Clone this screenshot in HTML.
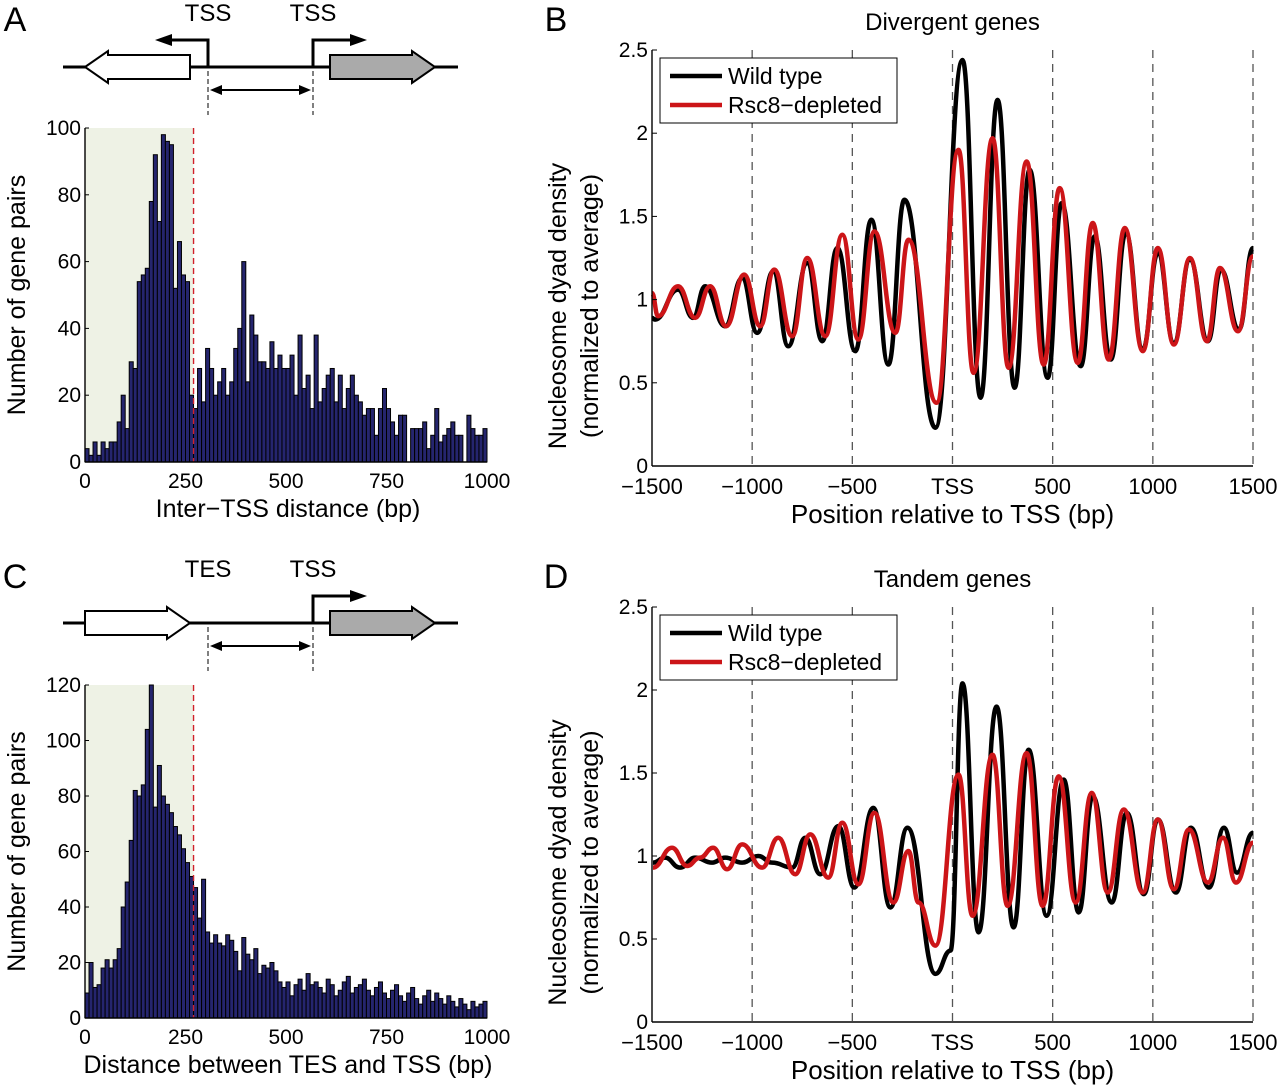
<!DOCTYPE html>
<html><head><meta charset="utf-8"><style>
body{margin:0;background:#fff}
svg{display:block;font-family:"Liberation Sans",Arial,sans-serif}
</style></head><body>
<svg id="fig" width="1280" height="1085" viewBox="0 0 1280 1085" xmlns="http://www.w3.org/2000/svg">
<g id="root"></g>
</svg>
<script>
// ---- Panel A histogram (10 bp bins, 0-1000 bp)
const aCounts = [4,2,6,2,6,4,6,6,12,20,10,30,28,54,56,58,78,92,72,98,96,95,52,66,56,54,20,16,
28,18,34,28,20,24,28,20,24,34,40,60,24,44,38,30,30,28,36,28,32,28,28,
32,20,38,22,26,16,38,18,22,26,28,18,26,16,22,26,20,18,14,16,16,8,16,22,16,12,8,14,14,0,10,10,10,12,4,8,16,6,8,10,12,8,8,0,14,10,8,8,10];
// ---- Panel C histogram
const cCounts = [9,20,11,12,18,21,18,21,25,40,49,64,82,80,84,104,120,76,91,80,77,74,69,66,61,56,51,47,
36,50,31,27,30,27,26,30,28,24,17,29,23,21,25,16,19,18,20,17,13,11,13,8,
12,14,10,16,12,13,11,9,14,12,8,10,13,15,9,11,12,14,10,8,11,13,9,7,10,12,8,6,9,11,7,5,8,10,6,9,7,5,8,6,4,7,5,3,6,4,5,6];
const aTicksY = [0,20,40,60,80,100];
const cTicksY = [0,20,40,60,80,100,120];
const histTicksX = [0,250,500,750,1000];
// ---- Panel B (divergent) extrema
const bWtPos = [-1500,-1485,-1370,-1295,-1235,-1135,-1050,-975,-895,-820,-725,-650,-575,-485,-405,-320,-240,-85,50,140,225,310,385,475,545,640,710,790,865,950,1025,1105,1185,1275,1340,1430,1500];
const bWtVal = [0.89,0.88,1.06,0.89,1.08,0.84,1.13,0.80,1.17,0.72,1.22,0.75,1.31,0.69,1.48,0.61,1.60,0.23,2.44,0.41,2.20,0.47,1.78,0.53,1.58,0.60,1.38,0.64,1.40,0.70,1.28,0.74,1.24,0.75,1.18,0.82,1.31];
const bRsPos = [-1500,-1470,-1370,-1285,-1210,-1130,-1040,-960,-890,-800,-725,-635,-550,-470,-390,-285,-220,-80,30,105,200,280,370,455,535,625,700,780,860,950,1025,1105,1185,1270,1335,1425,1500];
const bRsVal = [1.04,0.90,1.08,0.89,1.08,0.84,1.15,0.84,1.18,0.78,1.25,0.78,1.39,0.76,1.41,0.80,1.36,0.38,1.90,0.56,1.97,0.59,1.83,0.61,1.67,0.62,1.46,0.64,1.43,0.69,1.31,0.73,1.25,0.75,1.19,0.81,1.26];
// ---- Panel D (tandem) extrema
const dWtPos = [-1495,-1435,-1360,-1285,-1200,-1135,-1050,-970,-900,-800,-735,-660,-570,-490,-395,-310,-225,-85,-10,50,130,220,305,380,470,555,630,700,795,870,955,1025,1115,1190,1280,1355,1420,1500];
const dWtVal = [0.96,0.99,0.93,0.99,0.96,0.99,0.96,1.0,0.96,0.93,1.11,0.89,1.18,0.81,1.29,0.69,1.17,0.29,0.43,2.04,0.54,1.90,0.57,1.64,0.64,1.46,0.66,1.36,0.72,1.26,0.77,1.22,0.78,1.17,0.81,1.17,0.90,1.14];
const dRsPos = [-1495,-1400,-1325,-1260,-1195,-1125,-1050,-950,-870,-785,-710,-620,-550,-470,-390,-295,-220,-170,-85,30,100,200,275,370,450,530,615,695,775,855,950,1025,1105,1180,1275,1350,1415,1500];
const dRsVal = [0.93,1.05,0.94,0.99,1.05,0.92,1.07,0.93,1.11,0.89,1.13,0.87,1.20,0.83,1.26,0.72,1.03,0.72,0.46,1.49,0.64,1.61,0.70,1.62,0.70,1.48,0.72,1.38,0.78,1.28,0.78,1.22,0.80,1.16,0.84,1.11,0.84,1.08];
const profTicksY = [0,0.5,1,1.5,2,2.5];
const profTicksYLab = ["0","0.5","1","1.5","2","2.5"];
const profTicksX = [-1500,-1000,-500,0,500,1000,1500];
const profTicksXLab = ["\u22121500","\u22121000","\u2212500","TSS","500","1000","1500"];

const NS="http://www.w3.org/2000/svg";
const root=document.getElementById('root');
function el(tag,attrs,parent,text){const e=document.createElementNS(NS,tag);for(const k in attrs)e.setAttribute(k,attrs[k]);if(text!==undefined)e.textContent=text;(parent||root).appendChild(e);return e;}
function txt(x,y,s,size,anchor,parent){return el('text',{x:x,y:y,'font-size':size,'text-anchor':anchor||'middle',fill:'#000'},parent,s);}

function hist(name,counts,ticksY,ymax,x0,x1,y0,y1,xlabel){
  const g=el('g',{});
  
  
  const sx=v=>x0+(v/1000)*(x1-x0), sy=v=>y0-(v/ymax)*(y0-y1);
  const shade=el('rect',{x:sx(0),y:y1,width:sx(270)-sx(0),height:y0-y1,fill:'#eef2e5'},g);
  
  
  const bw=1000/counts.length;
  counts.forEach((c,i)=>{
    const r=el('rect',{x:sx(i*bw),y:sy(c),width:sx(bw)-sx(0),height:y0-sy(c),fill:'#25256e',stroke:'#000','stroke-width':1},g);
    
    
  });
  const dl=el('line',{x1:sx(270),x2:sx(270),y1:y1,y2:y0,stroke:'#d0202a','stroke-width':1.4,'stroke-dasharray':'6,4'},g);
  
  
  el('line',{x1:x0,x2:x0,y1:y1,y2:y0,stroke:'#000','stroke-width':1.4},g);
  el('line',{x1:x0,x2:x1,y1:y0,y2:y0,stroke:'#000','stroke-width':1.4},g);
  ticksY.forEach(t=>{el('line',{x1:x0,x2:x0+4,y1:sy(t),y2:sy(t),stroke:'#000'},g);
    const l=txt(x0-4,sy(t)+7,String(t),21,'end',g);
    
    });
  histTicksX.forEach(t=>{el('line',{x1:sx(t),x2:sx(t),y1:y0,y2:y0-4,stroke:'#000'},g);
    const l=txt(sx(t),y0+26,String(t),21,'middle',g);
    
    });
  const xl=txt((x0+x1)/2+2,y0+55,xlabel,25,'middle',g);
  
  
  const yl=el('text',{x:0,y:0,'font-size':25,'text-anchor':'middle',transform:`translate(25,${(y0+y1)/2}) rotate(-90)`},g,'Number of gene pairs');
  
  
}
hist('histogram-a',aCounts,aTicksY,100,85,487,462,128,'Inter\u2212TSS distance (bp)');
hist('histogram-c',cCounts,cTicksY,120,85,487,1018,685,'Distance between TES and TSS (bp)');

function pathFrom(pos,val,sx,sy){
  let d=`M${sx(pos[0])},${sy(val[0])}`;
  for(let i=1;i<pos.length;i++){
    const xa=sx(pos[i-1]),ya=sy(val[i-1]),xb=sx(pos[i]),yb=sy(val[i]);const dx=(xb-xa)/2.2;
    d+=` C${xa+dx},${ya} ${xb-dx},${yb} ${xb},${yb}`;
  }
  return d;
}
function profile(name,title,x0,x1,y0,y1,wp,wv,rp,rv){
  const g=el('g',{});
  
  
  const sx=v=>x0+(v+1500)/3000*(x1-x0), sy=v=>y0-(v/2.5)*(y0-y1);
  profTicksX.slice(1).forEach(t=>{const l=el('line',{x1:sx(t),x2:sx(t),y1:y1,y2:y0,stroke:'#555','stroke-width':1.3,'stroke-dasharray':'8,6'},g);
    
    });
  const w=el('path',{d:pathFrom(wp,wv,sx,sy),fill:'none',stroke:'#000','stroke-width':4.5,'stroke-linejoin':'round'},g);
  
  
  const r=el('path',{d:pathFrom(rp,rv,sx,sy),fill:'none',stroke:'#cc1518','stroke-width':4.5,'stroke-linejoin':'round'},g);
  
  
  el('line',{x1:x0,x2:x0,y1:y1,y2:y0,stroke:'#000','stroke-width':1.4},g);
  el('line',{x1:x0,x2:x1,y1:y0,y2:y0,stroke:'#000','stroke-width':1.4},g);
  profTicksY.forEach((t,i)=>{el('line',{x1:x0,x2:x0+5,y1:sy(t),y2:sy(t),stroke:'#000'},g);
    const l=txt(x0-4,sy(t)+7,profTicksYLab[i],21,'end',g);
    
    });
  profTicksX.forEach((t,i)=>{
    const l=txt(sx(t),y0+28,profTicksXLab[i],22,'middle',g);
    
    });
  const tt=txt((x0+x1)/2,y1-20,title,24,'middle',g);
  
  
  const xl=txt((x0+x1)/2,y0+57,'Position relative to TSS (bp)',26,'middle',g);
  
  
  const yl1=el('text',{'font-size':25,'text-anchor':'middle',transform:`translate(566,${(y0+y1)/2+48}) rotate(-90)`},g,'Nucleosome dyad density');
  
  
  const yl2=el('text',{'font-size':25,'text-anchor':'middle',transform:`translate(598,${(y0+y1)/2+48}) rotate(-90)`},g,'(normalized to average)');
  
  
  const lg=el('g',{},g);
  
  
  el('rect',{x:660,y:y1+8,width:237,height:65,fill:'#fff',stroke:'#000','stroke-width':1},lg);
  el('line',{x1:670,x2:722,y1:y1+26,y2:y1+26,stroke:'#000','stroke-width':4.5},lg);
  el('line',{x1:670,x2:722,y1:y1+55,y2:y1+55,stroke:'#cc1518','stroke-width':4.5},lg);
  const e1=txt(728,y1+34,'Wild type',23,'start',lg);
  
  
  const e2=txt(728,y1+63,'Rsc8\u2212depleted',23,'start',lg);
  
  
}
profile('profile-b','Divergent genes',652,1253,466,50,bWtPos,bWtVal,bRsPos,bRsVal);
profile('profile-d','Tandem genes',652,1253,1022,607,dWtPos,dWtVal,dRsPos,dRsVal);

function schematic(name,oy,divergent){
  const g=el('g',{});
  
  
  const ly=oy+67;
  el('line',{x1:63,x2:458,y1:ly,y2:ly,stroke:'#000','stroke-width':3},g);
  if(divergent){
    el('polygon',{points:`85,${ly} 108,${ly-16} 108,${ly-12} 190,${ly-12} 190,${ly+12} 108,${ly+12} 108,${ly+16}`,fill:'#fff',stroke:'#000','stroke-width':2},g);
  } else {
    el('polygon',{points:`85,${ly-12} 167,${ly-12} 167,${ly-16} 190,${ly} 167,${ly+16} 167,${ly+12} 85,${ly+12}`,fill:'#fff',stroke:'#000','stroke-width':2},g);
  }
  el('polygon',{points:`330,${ly-12} 412,${ly-12} 412,${ly-16} 435,${ly} 412,${ly+16} 412,${ly+12} 330,${ly+12}`,fill:'#aaa',stroke:'#000','stroke-width':2},g);
  if(divergent){
    el('polyline',{points:`208,${ly} 208,${ly-27} 165,${ly-27}`,fill:'none',stroke:'#000','stroke-width':3},g);
    el('polygon',{points:`155,${ly-27} 172,${ly-33} 172,${ly-21}`,fill:'#000'},g);
  }
  el('polyline',{points:`313,${ly} 313,${ly-27} 355,${ly-27}`,fill:'none',stroke:'#000','stroke-width':3},g);
  el('polygon',{points:`367,${ly-27} 350,${ly-33} 350,${ly-21}`,fill:'#000'},g);
  [208,313].forEach(x=>el('line',{x1:x,x2:x,y1:ly+4,y2:ly+48,stroke:'#000','stroke-width':1,'stroke-dasharray':'5,3'},g));
  el('line',{x1:216,x2:305,y1:ly+23,y2:ly+23,stroke:'#000','stroke-width':2},g);
  el('polygon',{points:`210,${ly+23} 222,${ly+18} 222,${ly+28}`,fill:'#000'},g);
  el('polygon',{points:`311,${ly+23} 299,${ly+18} 299,${ly+28}`,fill:'#000'},g);
  const l1=txt(208,oy+21,divergent?'TSS':'TES',24,'middle',g);
  
  
  const l2=txt(313,oy+21,'TSS',24,'middle',g);
  
  
}
schematic('schematic-divergent',0,true);
schematic('schematic-tandem',556,false);

[['A',15,31],['B',556,31],['C',15,588],['D',556,588]].forEach(p=>{
  const t=txt(p[1],p[2],p[0],34,'middle');
  
  
});
</script>
</body></html>
